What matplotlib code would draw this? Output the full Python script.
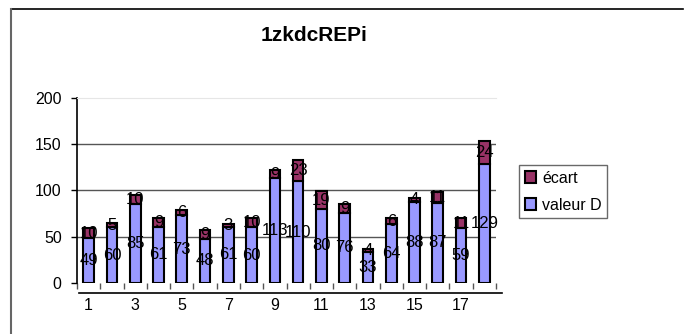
import matplotlib
matplotlib.use('Agg')
import numpy as np
from matplotlib import pyplot as plt
from matplotlib.lines import Line2D
from matplotlib.patches import Patch
import matplotlib.transforms as mtransforms

plt.rcParams['font.family'] = ['Liberation Sans', 'DejaVu Sans']

# values per measurement point
points = np.arange(1, 19)
valeur_d = [49, 60, 85, 61, 73, 48, 61, 60, 113, 110, 80, 76, 33, 64, 88, 87, 59, 129]
ecart = [10, 5, 10, 9, 6, 9, 3, 10, 9, 23, 19, 9, 4, 6, 4, 11, 11, 24]
xtick_labels = ['1', '3', '5', '7', '9', '11', '13', '15', '17']

col_d = '#9999FF'
col_ecart = '#993366'

fig = plt.figure(figsize=(6.85, 3.34), dpi=100)
ax = fig.add_axes([0.1124, 0.1527, 0.6117, 0.5539])

bw = 0.46
bars_d = ax.bar(points, valeur_d, width=bw, color=col_d, edgecolor='black', linewidth=1.5, zorder=3)
bars_e = ax.bar(points, ecart, width=bw, bottom=valeur_d, color=col_ecart,
                edgecolor='black', linewidth=1.5, zorder=3)

# segment labels in the middle of each block
for x, d, e in zip(points, valeur_d, ecart):
    ax.text(x, d / 2, str(d), ha='center', va='center', fontsize=12, zorder=4)
    ax.text(x, d + e / 2, str(e), ha='center', va='center', fontsize=12, zorder=4)

ax.set_xlim(0.5, 18.5)
ax.set_ylim(0, 200)
ax.set_yticks([0, 50, 100, 150, 200])
ax.tick_params(axis='y', labelsize=11.5, length=4, width=1, direction='out', pad=7)
for y in [50, 100, 150]:
    ax.axhline(y, color='#555555', linewidth=1, zorder=1)

ax.set_xticks(points[::2])
ax.set_xticklabels(xtick_labels)
ax.set_xticks(np.arange(0.5, 19, 1), minor=True)
ax.tick_params(axis='x', which='major', length=0, labelsize=11.5, pad=11)
ax.tick_params(axis='x', which='minor', length=4, width=1, color='#555555')

ax.spines['bottom'].set_visible(False)
ax.spines['right'].set_visible(False)
ax.spines['top'].set_color('#e6e6e6')
ax.spines['left'].set_linewidth(1.2)

# category axis line sits a little below the baseline
off = mtransforms.ScaledTranslation(0, -10 / 100, fig.dpi_scale_trans)
ax.add_line(Line2D([0.005, 1.015], [0, 0], transform=ax.transAxes + off,
                   color='black', linewidth=1.2, clip_on=False))

fig.text(0.458, 0.895, '1zkdcREPi', ha='center', va='center', fontsize=15, fontweight='bold')

handles = [Patch(facecolor=col_ecart, edgecolor='black', linewidth=1.5, label='écart'),
           Patch(facecolor=col_d, edgecolor='black', linewidth=1.5, label='valeur D')]
leg = fig.legend(handles=handles, loc='upper left', bbox_to_anchor=(0.7577, 0.506),
                 borderaxespad=0, fontsize=11.5, frameon=True, fancybox=False,
                 handlelength=0.7, handleheight=0.7, handletextpad=0.4,
                 borderpad=0.35, labelspacing=0.75)
leg.get_frame().set_edgecolor('#444444')
leg.get_frame().set_linewidth(1)

# outer chart frame
fig.add_artist(Line2D([0.016, 0.997], [0.973, 0.973], color='black', linewidth=1.2))
fig.add_artist(Line2D([0.016, 0.016], [0.0, 0.973], color='#666666', linewidth=1.5))

fig.savefig('out.png', dpi=100)
